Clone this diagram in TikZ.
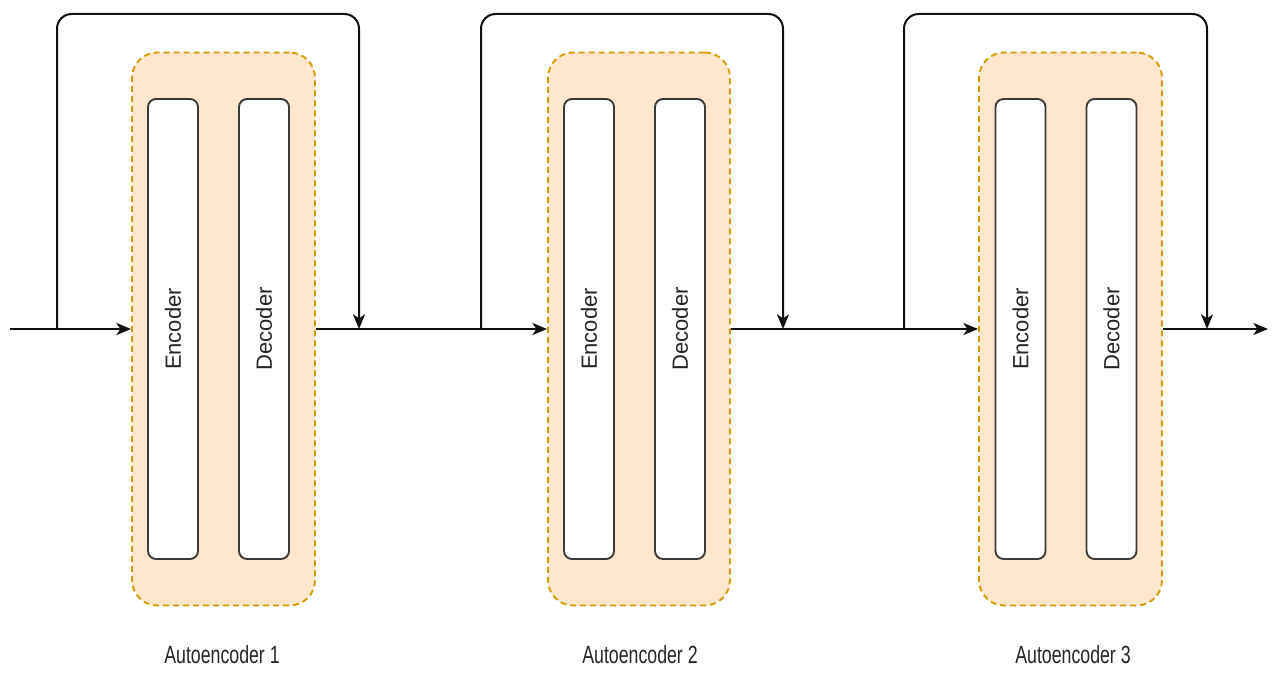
\documentclass[tikz,border=0pt]{standalone}
\usepackage{fontspec}
\setmainfont{Liberation Sans}
\usetikzlibrary{arrows.meta}
\definecolor{aefill}{HTML}{FFE6CC}
\definecolor{aedraw}{HTML}{D79B00}
\definecolor{boxline}{HTML}{3A3A3A}
\definecolor{wire}{HTML}{111111}
\tikzset{
  container/.style={draw=aedraw, fill=aefill, line width=1.4pt, dash pattern=on 4.5pt off 3pt,
    rounded corners=19pt, minimum width=#1*0.75pt, minimum height=553*0.75pt, inner sep=0pt},
  coder/.style={draw=boxline, fill=white, line width=1.4pt, rounded corners=6pt,
    minimum width=37.5pt, minimum height=345pt, inner sep=0pt},
  codertext/.style={rotate=90, font=\fontsize{16.5}{18}\selectfont, text=black!85},
  aelabel/.style={font=\fontsize{13.3}{15}\selectfont, text=black!85},
  arr/.style={draw=wire, line width=1.5pt, -{Stealth[length=11pt,width=9pt,inset=3pt]}},
  loop/.style={arr, rounded corners=11pt}
}
\begin{document}
\begin{tikzpicture}[x=0.75pt,y=-0.75pt]
\useasboundingbox (0,0) rectangle (1280,673);
% containers
\node[container=183] (c1) at (223.5,329) {};
\node[container=182] (c2) at (639,329) {};
\node[container=183] (c3) at (1070.5,329) {};
% encoders / decoders
\node[coder] (e1) at (173,329) {};
\node[coder] (d1) at (264,329) {};
\node[coder] (e2) at (589,329) {};
\node[coder] (d2) at (680,329) {};
\node[coder] (e3) at (1020.5,329) {};
\node[coder] (d3) at (1111.5,329) {};
\foreach \n/\t in {e1/Encoder,d1/Decoder,e2/Encoder,d2/Decoder,e3/Encoder,d3/Decoder}
  \node[codertext] (\n t) at (\n) {\t};
% labels
\node[aelabel] (l1) at (222,655) {\scalebox{1}[1.4]{Autoencoder 1}};
\node[aelabel] (l2) at (640,655) {\scalebox{1}[1.4]{Autoencoder 2}};
\node[aelabel] (l3) at (1073,655) {\scalebox{1}[1.4]{Autoencoder 3}};
% coordinates
\coordinate (in) at (10,329);
\coordinate (out) at (1268,329);
\coordinate (j1) at (57,329);
\coordinate (k1) at (359,329);
\coordinate (t1) at (200,14);
\coordinate (j2) at (481,329);
\coordinate (k2) at (783,329);
\coordinate (t2) at (600,14);
\coordinate (j3) at (904,329);
\coordinate (k3) at (1207,329);
\coordinate (t3) at (1050,14);
% main line
\draw[arr] (in) -- (c1.west);
\draw[arr] (c1.east) -- (c2.west);
\draw[arr] (c2.east) -- (c3.west);
\draw[arr] (c3.east) -- (out);
% skip loops
\draw[loop] (j1) |- (t1) -| (k1);
\draw[loop] (j2) |- (t2) -| (k2);
\draw[loop] (j3) |- (t3) -| (k3);
\end{tikzpicture}
\end{document}
